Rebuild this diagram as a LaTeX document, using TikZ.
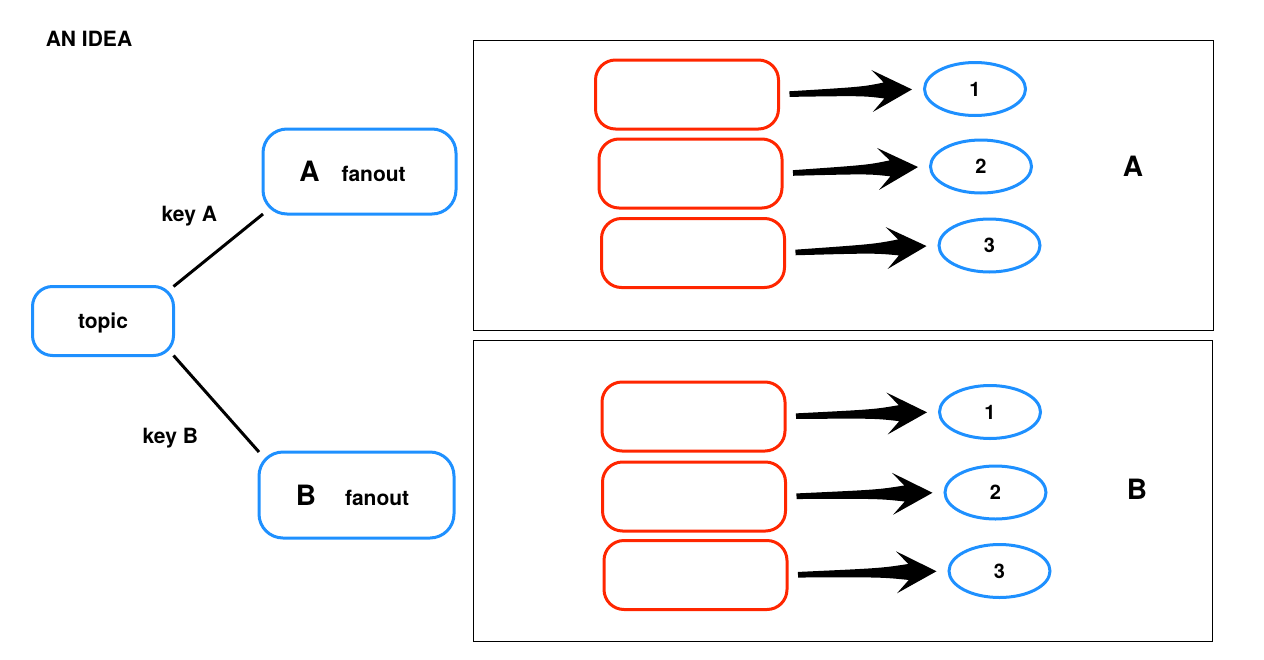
\documentclass[tikz,border=0pt]{standalone}
\usepackage{fontspec}
\setmainfont{TeX Gyre Heros}
\usetikzlibrary{shapes.geometric,calc}

\definecolor{keyblue}{RGB}{30,144,255}
\definecolor{keyred}{RGB}{255,38,0}

% tapered arrow from the east side of #1 to the west side of #2
\newcommand{\fatarrow}[2]{%
  \path ($(#1.east)!11pt!(#2.west)$) coordinate (s) ($(#2.west)!11pt!(#1.east)$) coordinate (t);
  \fill ($(s)!2.8pt!90:(t)$) .. controls ($(s)!0.6!(t)!4.5pt!90:(t)$) .. ($(t)!28pt!(s)!8pt!-90:(s)$)
    -- ($(t)!40pt!(s)!21pt!-90:(s)$) -- (t) -- ($(t)!40pt!(s)!21pt!90:(s)$) -- ($(t)!28pt!(s)!8pt!90:(s)$)
    .. controls ($(s)!0.6!(t)!4.5pt!-90:(t)$) .. ($(s)!2.8pt!-90:(t)$) -- cycle;}

\begin{document}
\begin{tikzpicture}[x=1pt, y=-1pt,
	every node/.style={font=\bfseries\fontsize{21}{24}\selectfont},
	bluebox/.style={draw=keyblue, line width=3pt, rounded corners=24pt, inner sep=0pt, outer sep=0pt},
	redbox/.style={draw=keyred, line width=3pt, rounded corners=20pt, minimum width=183pt, minimum height=69pt, outer sep=0pt},
	slot/.style={ellipse, draw=keyblue, line width=3pt, minimum width=101pt, minimum height=53pt, inner sep=0pt, font=\bfseries\fontsize{20}{22}\selectfont},
	bigletter/.style={font=\bfseries\fontsize{28}{30}\selectfont},
	panel/.style={draw, line width=1pt}]
	\useasboundingbox (0,0) rectangle (1264,659);

	\node (title) at (89,39) {AN IDEA};

	% left: topic and its two fanouts
	\node[bluebox, minimum width=141pt, minimum height=69pt, rounded corners=20pt, text height=15pt, text depth=0pt] (topic) at (103,321) {topic};
	\node[bluebox, minimum width=193pt, minimum height=85pt] (fanA) at (359.5,171.5) {{\fontsize{28}{30}\selectfont A}\hspace{22pt}fanout\hspace*{14pt}};
	\node[bluebox, minimum width=195pt, minimum height=86pt] (fanB) at (356.5,495) {{\fontsize{28}{30}\selectfont B}\hspace{29pt}fanout\hspace*{8pt}};
	\draw[line width=3pt] (topic.north east) -- node[midway, xshift=-29pt, yshift=34pt] (keyA) {key A} (fanA.south west);
	\draw[line width=3pt] (topic.south east) -- node[midway, xshift=-46pt, yshift=-34pt] (keyB) {key B} (fanB.north west);

	% panel A
	\draw[panel] (473,40) rectangle (1213,330);
	\node[redbox] (a1) at (687,94.5) {};
	\node[redbox] (a2) at (690.5,173.5) {};
	\node[redbox] (a3) at (693,253) {};
	\node[slot] (ea1) at (975,89) {1};
	\node[slot] (ea2) at (981,166.5) {2};
	\node[slot] (ea3) at (989.5,245.5) {3};
	\node[bigletter] (labA) at (1133,166) {A};

	% panel B
	\draw[panel] (473,340) rectangle (1212,641);
	\node[redbox] (b1) at (693.5,416.5) {};
	\node[redbox] (b2) at (694,496.5) {};
	\node[redbox] (b3) at (695.5,575) {};
	\node[slot] (eb1) at (990,412) {1};
	\node[slot] (eb2) at (995.5,492.5) {2};
	\node[slot] (eb3) at (999.5,571) {3};
	\node[bigletter] (labB) at (1137,489) {B};

	\foreach \i in {1,2,3} {
		\fatarrow{a\i}{ea\i}
		\fatarrow{b\i}{eb\i}
	}
\end{tikzpicture}
\end{document}
